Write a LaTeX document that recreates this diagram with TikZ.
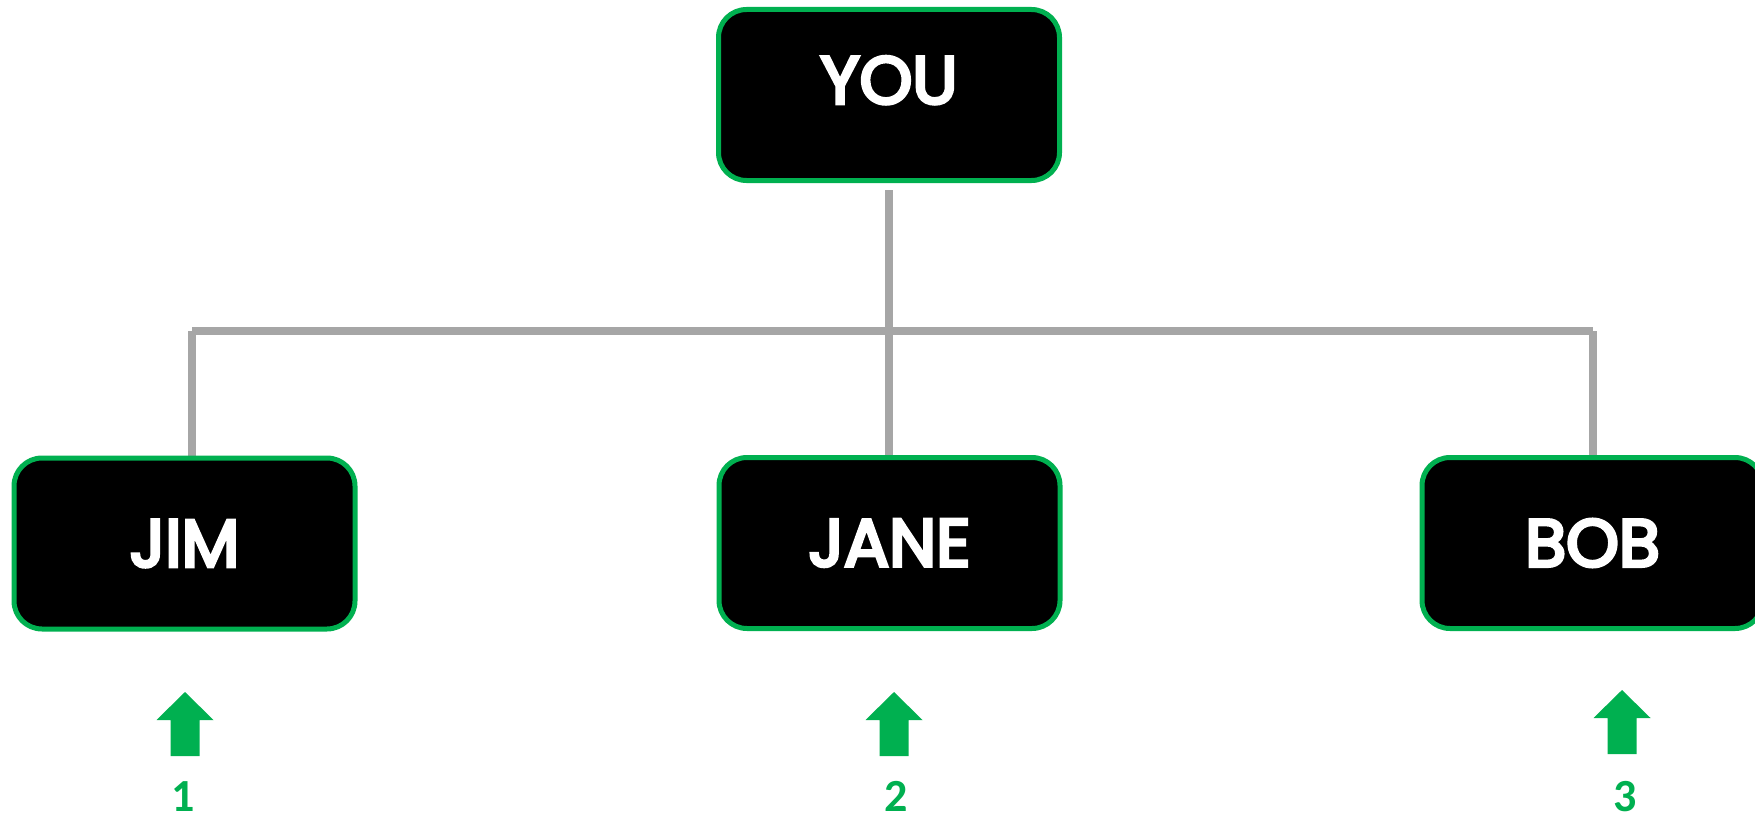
\documentclass[tikz,border=0pt]{standalone}
\usepackage{fontspec}
\usetikzlibrary{backgrounds}
\newfontfamily\lblfont{Poppins}[FakeBold=5]
\newfontfamily\numfont{Carlito}
\definecolor{boxgreen}{HTML}{00B050}
\definecolor{conngray}{HTML}{A6A6A6}
\tikzset{
  person/.style={rectangle, rounded corners=28pt, draw=boxgreen, line width=5pt,
    fill=black, text=white, minimum width=341pt, minimum height=171pt,
    inner sep=0pt, font=\lblfont\fontsize{67}{67}\selectfont},
  conn/.style={draw=conngray, line width=7.5pt},
  uparrow/.style={fill=boxgreen},
  rank/.style={text=boxgreen, inner sep=0pt, anchor=base, text depth=0pt,
    font=\numfont\bfseries\fontsize{46}{46}\selectfont}
}
\begin{document}
\begin{tikzpicture}[x=1pt,y=-1pt]
\clip (0,0) rectangle (1755,816);
\node[person, text depth=30pt] (you) at (889,95) {YOU};
\node[person] (jim) at (184.5,543.5) {JIM};
\node[person] (jane) at (889.5,543) {JANE};
\node[person] (bob) at (1592.5,543) {BOB};
\coordinate (busL) at (192,331);
\coordinate (busR) at (1593,331);
\begin{scope}[on background layer]
\fill[white] (0,0) rectangle (1755,816);
\draw[conn] ([yshift=-7pt]you.south) -- (you.south |- jane.north);
\draw[conn] (busL) -- (busR);
\draw[conn] (busL) -- (busL |- jim.north);
\draw[conn] (busR) -- (busR |- bob.north);
\end{scope}
% arrows
\coordinate (t1) at (185,692);
\coordinate (t2) at (894,692);
\coordinate (t3) at (1622,690);
\foreach \t in {t1,t2,t3}{
  \fill[uparrow] (\t) -- ++(28.5,28) -- ++(-14,0) -- ++(0,36) -- ++(-29,0)
    -- ++(0,-36) -- ++(-14,0) -- cycle;
}
\node[rank] (n1) at (183,811) {1};
\node[rank] (n2) at (896,811) {2};
\node[rank] (n3) at (1625,811) {3};
\end{tikzpicture}
\end{document}
